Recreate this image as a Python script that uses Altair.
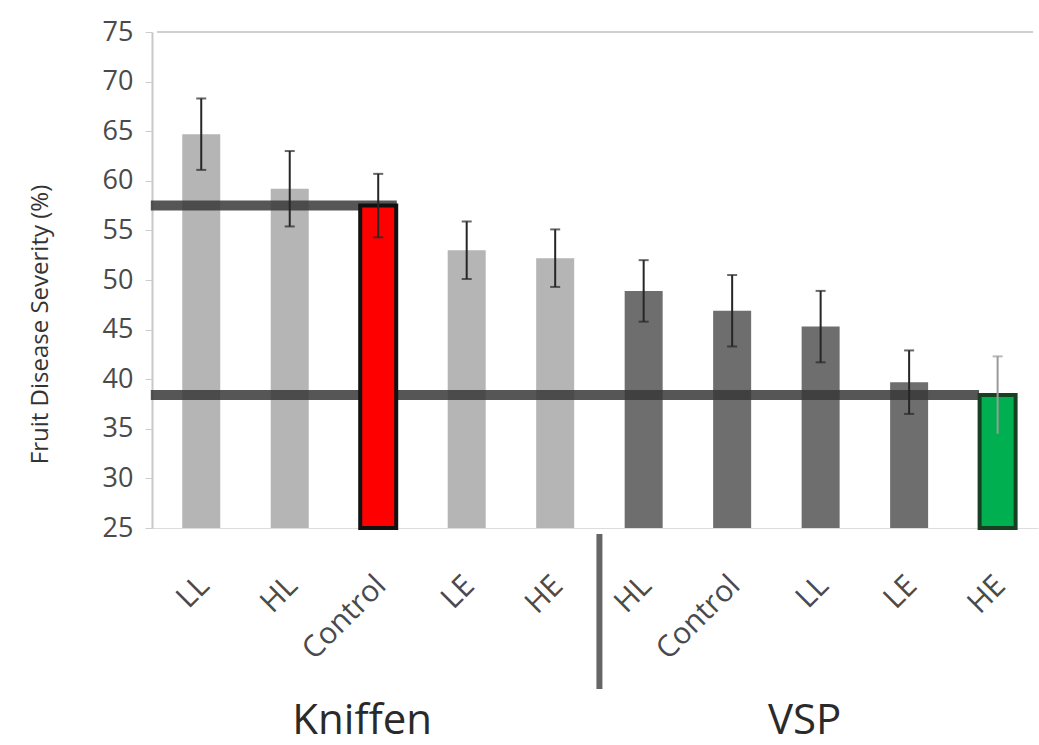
import json
import altair as alt
import pandas as pd

# ---- data ----
groups = ["Kniffen"] * 5 + ["VSP"] * 5
treatments = ["LL", "HL", "Control", "LE", "HE", "HL", "Control", "LL", "LE", "HE"]
severity = [64.7, 59.2, 57.5, 53.0, 52.2, 48.9, 46.9, 45.3, 39.7, 38.4]
error = [3.6, 3.8, 3.2, 2.9, 2.9, 3.1, 3.6, 3.6, 3.2, 3.9]
role = ["plain", "plain", "worst", "plain", "plain",
        "plain", "plain", "plain", "plain", "best"]
y_ticks = [25, 30, 35, 40, 45, 50, 55, 60, 65, 70, 75]
y_title = "Fruit Disease Severity (%)"

FONT = "Open Sans"
HALF = 0.21  # half bar width in x units (38px / 89.5px)

df = pd.DataFrame({
    "pos": list(range(len(treatments))),
    "group": groups,
    "treatment": treatments,
    "severity": severity,
    "lo": [s - e for s, e in zip(severity, error)],
    "hi": [s + e for s, e in zip(severity, error)],
    "role": role,
})
df["kind"] = [r if r != "plain" else g for r, g in zip(df["role"], df["group"])]

worst_i = role.index("worst")
best_i = role.index("best")
ref = pd.DataFrame({
    "y": [severity[worst_i], severity[best_i]],
    "x": [-0.57, -0.57],
    "x2": [worst_i + HALF, best_i - HALF],
})

xscale = alt.Scale(domain=[-0.5, 9.4], nice=False, zero=False)
yscale = alt.Scale(domain=[25, 75], nice=False, zero=False)

label_expr = json.dumps(treatments) + "[datum.value]"

base = alt.Chart(df)

x_enc = alt.X(
    "pos:Q", scale=xscale,
    axis=alt.Axis(values=list(range(len(treatments))), labelExpr=label_expr,
                  labelAngle=-45, labelFontSize=30, labelFont=FONT,
                  labelColor="#4a4a4a", labelPadding=42, labelOffset=-8,
                  labelOverlap=False, labelBound=False, labelFlush=False,
                  ticks=False, grid=False, domainColor="#dddddd",
                  domainWidth=1, title=None),
)
y_enc = alt.Y(
    "severity:Q", scale=yscale,
    axis=alt.Axis(values=y_ticks, labelFontSize=27, labelFont=FONT,
                  labelColor="#4a4a4a", labelPadding=12, tickSize=7,
                  labelOverlap=False,
                  tickColor="#cccccc", domainColor="#c8c8c8", domainWidth=2,
                  grid=False, title=y_title, titleFont=FONT, titleFontSize=24,
                  titleFontWeight="normal", titleColor="#333333",
                  titleX=-100, titleY=292),
)

color_scale = alt.Scale(domain=["Kniffen", "VSP", "worst", "best"],
                        range=["#b5b5b5", "#6e6e6e", "#ff0000", "#00b050"])
stroke_scale = alt.Scale(domain=["Kniffen", "VSP", "worst", "best"],
                         range=["#b5b5b5", "#6e6e6e", "#111111", "#173f22"])

plain_bars = base.transform_filter("datum.role == 'plain'").mark_bar(size=38).encode(
    x=x_enc, y=y_enc, y2=alt.datum(25),
    color=alt.Color("kind:N", scale=color_scale, legend=None),
)

top_border = alt.Chart(pd.DataFrame({"x": [-0.5], "x2": [9.4], "y": [75]})).mark_rule(
    color="#d0d0d0", strokeWidth=2).encode(
    x=alt.X("x:Q", scale=xscale), x2="x2:Q", y=alt.Y("y:Q", scale=yscale))

ref_lines = alt.Chart(ref).mark_rule(strokeWidth=10, color="#383838", opacity=0.85).encode(
    x=alt.X("x:Q", scale=xscale), x2="x2:Q", y=alt.Y("y:Q", scale=yscale))

hi_bars = base.transform_filter("datum.role != 'plain'").mark_bar(
    size=36, strokeWidth=4).encode(
    x=alt.X("pos:Q", scale=xscale), y=alt.Y("severity:Q", scale=yscale),
    y2=alt.datum(25),
    color=alt.Color("kind:N", scale=color_scale, legend=None),
    stroke=alt.Stroke("kind:N", scale=stroke_scale, legend=None),
)

err_color = alt.condition("datum.role == 'best'", alt.value("#9a9a9a"), alt.value("#262626"))

err_rule = base.mark_rule(strokeWidth=2).encode(
    x=alt.X("pos:Q", scale=xscale), y=alt.Y("lo:Q", scale=yscale), y2="hi:Q",
    color=err_color)
err_top = base.mark_tick(orient="horizontal", size=10, thickness=2).encode(
    x=alt.X("pos:Q", scale=xscale), y=alt.Y("hi:Q", scale=yscale), color=err_color)
err_bot = base.transform_filter("datum.role != 'best'").mark_tick(
    orient="horizontal", size=10, thickness=2).encode(
    x=alt.X("pos:Q", scale=xscale), y=alt.Y("lo:Q", scale=yscale), color=err_color)

separator = alt.Chart(pd.DataFrame({"x": [4.5]})).mark_rule(
    color="#666666", strokeWidth=6).encode(
    x=alt.X("x:Q", scale=xscale), y=alt.value(502), y2=alt.value(657))

group_labels = base.transform_aggregate(
    center="mean(pos)", groupby=["group"]).mark_text(
    font=FONT, fontSize=42, color="#2a2a2a", dx=-16, baseline="alphabetic").encode(
    x=alt.X("center:Q", scale=xscale), y=alt.value(702), text="group:N")

chart = alt.layer(
    plain_bars, top_border, ref_lines, hi_bars, err_rule, err_top, err_bot,
    separator, group_labels,
).properties(
    width=886, height=496,
    autosize=alt.AutoSizeParams(type="none"),
    padding={"left": 152, "top": 32, "right": 1, "bottom": 217},
    background="white",
).configure_view(stroke=None)

chart.save("out.html", embed_options={"renderer": "svg", "actions": False})
